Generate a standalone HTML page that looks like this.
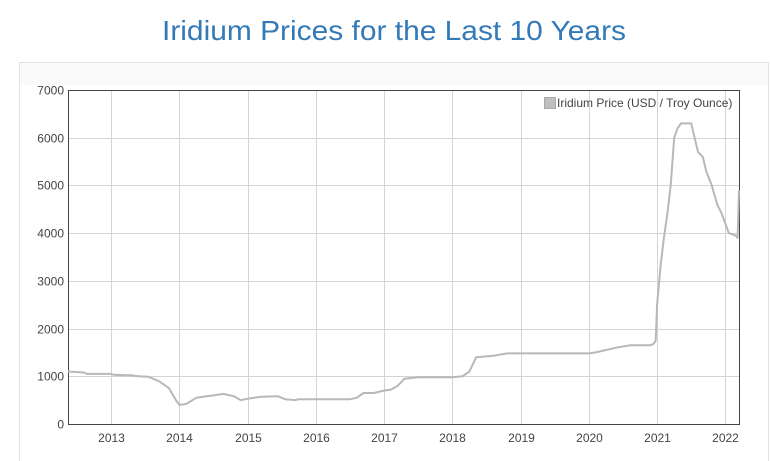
<!DOCTYPE html>
<html><head><meta charset="utf-8"><style>
body{margin:0;background:#fff;width:770px;height:461px;overflow:hidden;font-family:"Liberation Sans",sans-serif}
</style></head><body>
<svg width="770" height="461" style="display:block">
<text x="394" y="40" text-anchor="middle" font-size="28" fill="#337ab7" textLength="464" lengthAdjust="spacingAndGlyphs">Iridium Prices for the Last 10 Years</text>
<rect x="19.5" y="62.5" width="749" height="410" fill="#fff" stroke="#e3e3e3"/>
<rect x="20" y="63" width="748" height="22" fill="#fafafa"/>
<g id="grid"></g>
<rect x="68.5" y="90.5" width="671" height="334" fill="none" stroke="#444"/>
<g id="marks"></g>
<g>
<rect x="544.5" y="97.5" width="11" height="11" fill="#c0c0c0" stroke="#aaa"/>
<text x="557" y="107" font-size="12" fill="#444">Iridium Price (USD / Troy Ounce)</text>
</g>
</svg>
<script>
const years=[2013,2014,2015,2016,2017,2018,2019,2020,2021,2022];
const yTicks=[0,1000,2000,3000,4000,5000,6000,7000];
const dates=[2012.37,2012.6,2012.65,2013.0,2013.05,2013.3,2013.4,2013.55,2013.7,2013.85,2013.95,2014.0,2014.1,2014.25,2014.4,2014.5,2014.65,2014.8,2014.9,2015.0,2015.2,2015.45,2015.55,2015.7,2015.75,2016.0,2016.5,2016.6,2016.7,2016.85,2017.0,2017.1,2017.2,2017.3,2017.5,2018.0,2018.15,2018.25,2018.35,2018.6,2018.8,2019.5,2020.0,2020.1,2020.25,2020.4,2020.6,2020.9,2020.95,2020.98,2021.0,2021.05,2021.1,2021.15,2021.2,2021.25,2021.3,2021.35,2021.5,2021.55,2021.6,2021.67,2021.72,2021.8,2021.88,2021.95,2022.05,2022.15,2022.18,2022.2];
const prices=[1100,1080,1050,1050,1030,1020,1000,990,900,750,500,400,420,550,580,600,630,580,500,530,570,580,520,500,520,520,520,550,650,650,700,720,800,950,980,980,1000,1100,1400,1430,1480,1480,1480,1500,1550,1600,1650,1650,1680,1750,2500,3300,3900,4400,5000,6000,6200,6300,6300,6000,5700,5600,5300,5000,4600,4400,4000,3950,3900,4900];
const X0=68,X1=739,Y0=424,Y1=90,T0=2012.37,T1=2022.2;
const xs=t=>X0+(t-T0)/(T1-T0)*(X1-X0);
const ys=v=>Y0-v/7000*(Y0-Y1);
const NS="http://www.w3.org/2000/svg";
const grid=document.getElementById('grid'),marks=document.getElementById('marks');
function mk(tag,attrs,parent){const e=document.createElementNS(NS,tag);for(const k in attrs)e.setAttribute(k,attrs[k]);parent.appendChild(e);return e;}
yTicks.forEach(v=>{
  const y=Math.round(ys(v))+0.5;
  const l=mk('line',{x1:X0,x2:X1,y1:y,y2:y,stroke:'#d4d4d4'},grid);
  
  
  const t=mk('text',{x:X0-4,y:y+4,'text-anchor':'end','font-size':12,fill:'#444'},grid);
  
  
  t.textContent=v;
});
years.forEach(yr=>{
  const x=Math.round(xs(yr))+0.5;
  const l=mk('line',{x1:x,x2:x,y1:Y1,y2:Y0,stroke:'#d4d4d4'},grid);
  
  
  const t=mk('text',{x:x,y:442,'text-anchor':'middle','font-size':12,fill:'#444'},grid);
  
  
  t.textContent=yr;
});
const d=dates.map((t,i)=>(i?'L':'M')+xs(t).toFixed(1)+','+ys(prices[i]).toFixed(1)).join('');
const p=mk('path',{d:d,fill:'none',stroke:'#b8b8b8','stroke-width':2,'stroke-linejoin':'round'},marks);


</script>
</body></html>
